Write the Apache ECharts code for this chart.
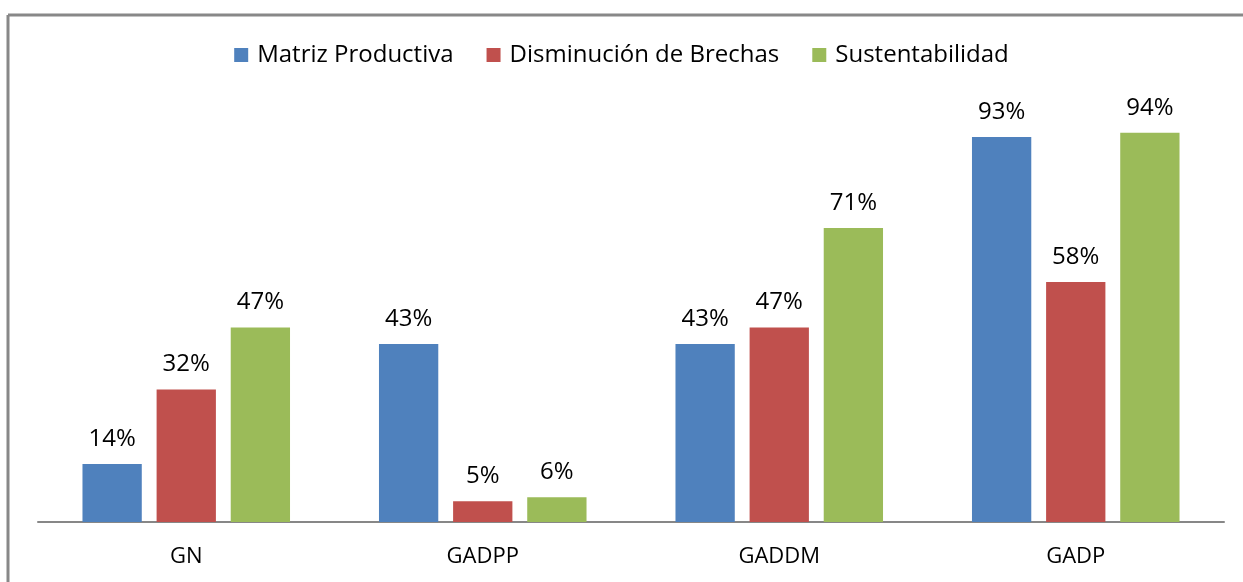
<!DOCTYPE html>
<html>
<head>
<meta charset="utf-8">
<script src="https://cdn.jsdelivr.net/npm/echarts@6/dist/echarts.min.js"></script>
<style>
  html, body { margin: 0; padding: 0; background: #fff; }
  #chart { width: 1243px; height: 582px; }
</style>
</head>
<body>
<div id="chart"></div>
<script>
const categories = ['GN', 'GADPP', 'GADDM', 'GADP'];
const seriesNames = ['Matriz Productiva', 'Disminución de Brechas', 'Sustentabilidad'];
const matrizProductiva = [14, 43, 43, 93];
const disminucionBrechas = [32, 5, 47, 58];
const sustentabilidad = [47, 6, 71, 94];

const colors = ['#4F81BD', '#C0504D', '#9BBB59'];
const fontFamily = '"Open Sans", Lato, sans-serif';

const chart = echarts.init(document.getElementById('chart'));

function barSeries(name, data, color) {
  return {
    name: name,
    type: 'bar',
    data: data,
    barWidth: '20%',
    barGap: '25%',
    itemStyle: { color: color },
    label: {
      show: true,
      position: 'top',
      distance: 13,
      formatter: '{c}%',
      color: '#000',
      fontSize: 24,
      fontFamily: fontFamily
    }
  };
}

chart.setOption({
  animation: false,
  backgroundColor: '#fff',
  color: colors,
  legend: {
    top: 38,
    left: 'center',
    icon: 'rect',
    itemWidth: 14,
    itemHeight: 14,
    itemGap: 33,
    textStyle: { fontSize: 24, color: '#000', fontFamily: fontFamily, padding: [0, 0, 0, 4] },
    data: seriesNames
  },
  grid: { left: 38, right: 19, top: 108, bottom: 60 },
  xAxis: {
    type: 'category',
    data: categories,
    axisLine: { lineStyle: { color: '#878787', width: 2 } },
    axisTick: { show: false },
    axisLabel: { fontSize: 22, color: '#000', margin: 24, fontFamily: fontFamily }
  },
  yAxis: {
    type: 'value',
    min: 0,
    max: 100,
    show: false,
    splitLine: { show: false }
  },
  series: [
    barSeries(seriesNames[0], matrizProductiva, colors[0]),
    barSeries(seriesNames[1], disminucionBrechas, colors[1]),
    barSeries(seriesNames[2], sustentabilidad, colors[2])
  ],
  graphic: [
    { type: 'line', shape: { x1: 8, y1: 15, x2: 1243, y2: 15 }, style: { stroke: '#888', lineWidth: 3 } },
    { type: 'line', shape: { x1: 8, y1: 15, x2: 8, y2: 582 }, style: { stroke: '#888', lineWidth: 3 } }
  ]
});
</script>
</body>
</html>
